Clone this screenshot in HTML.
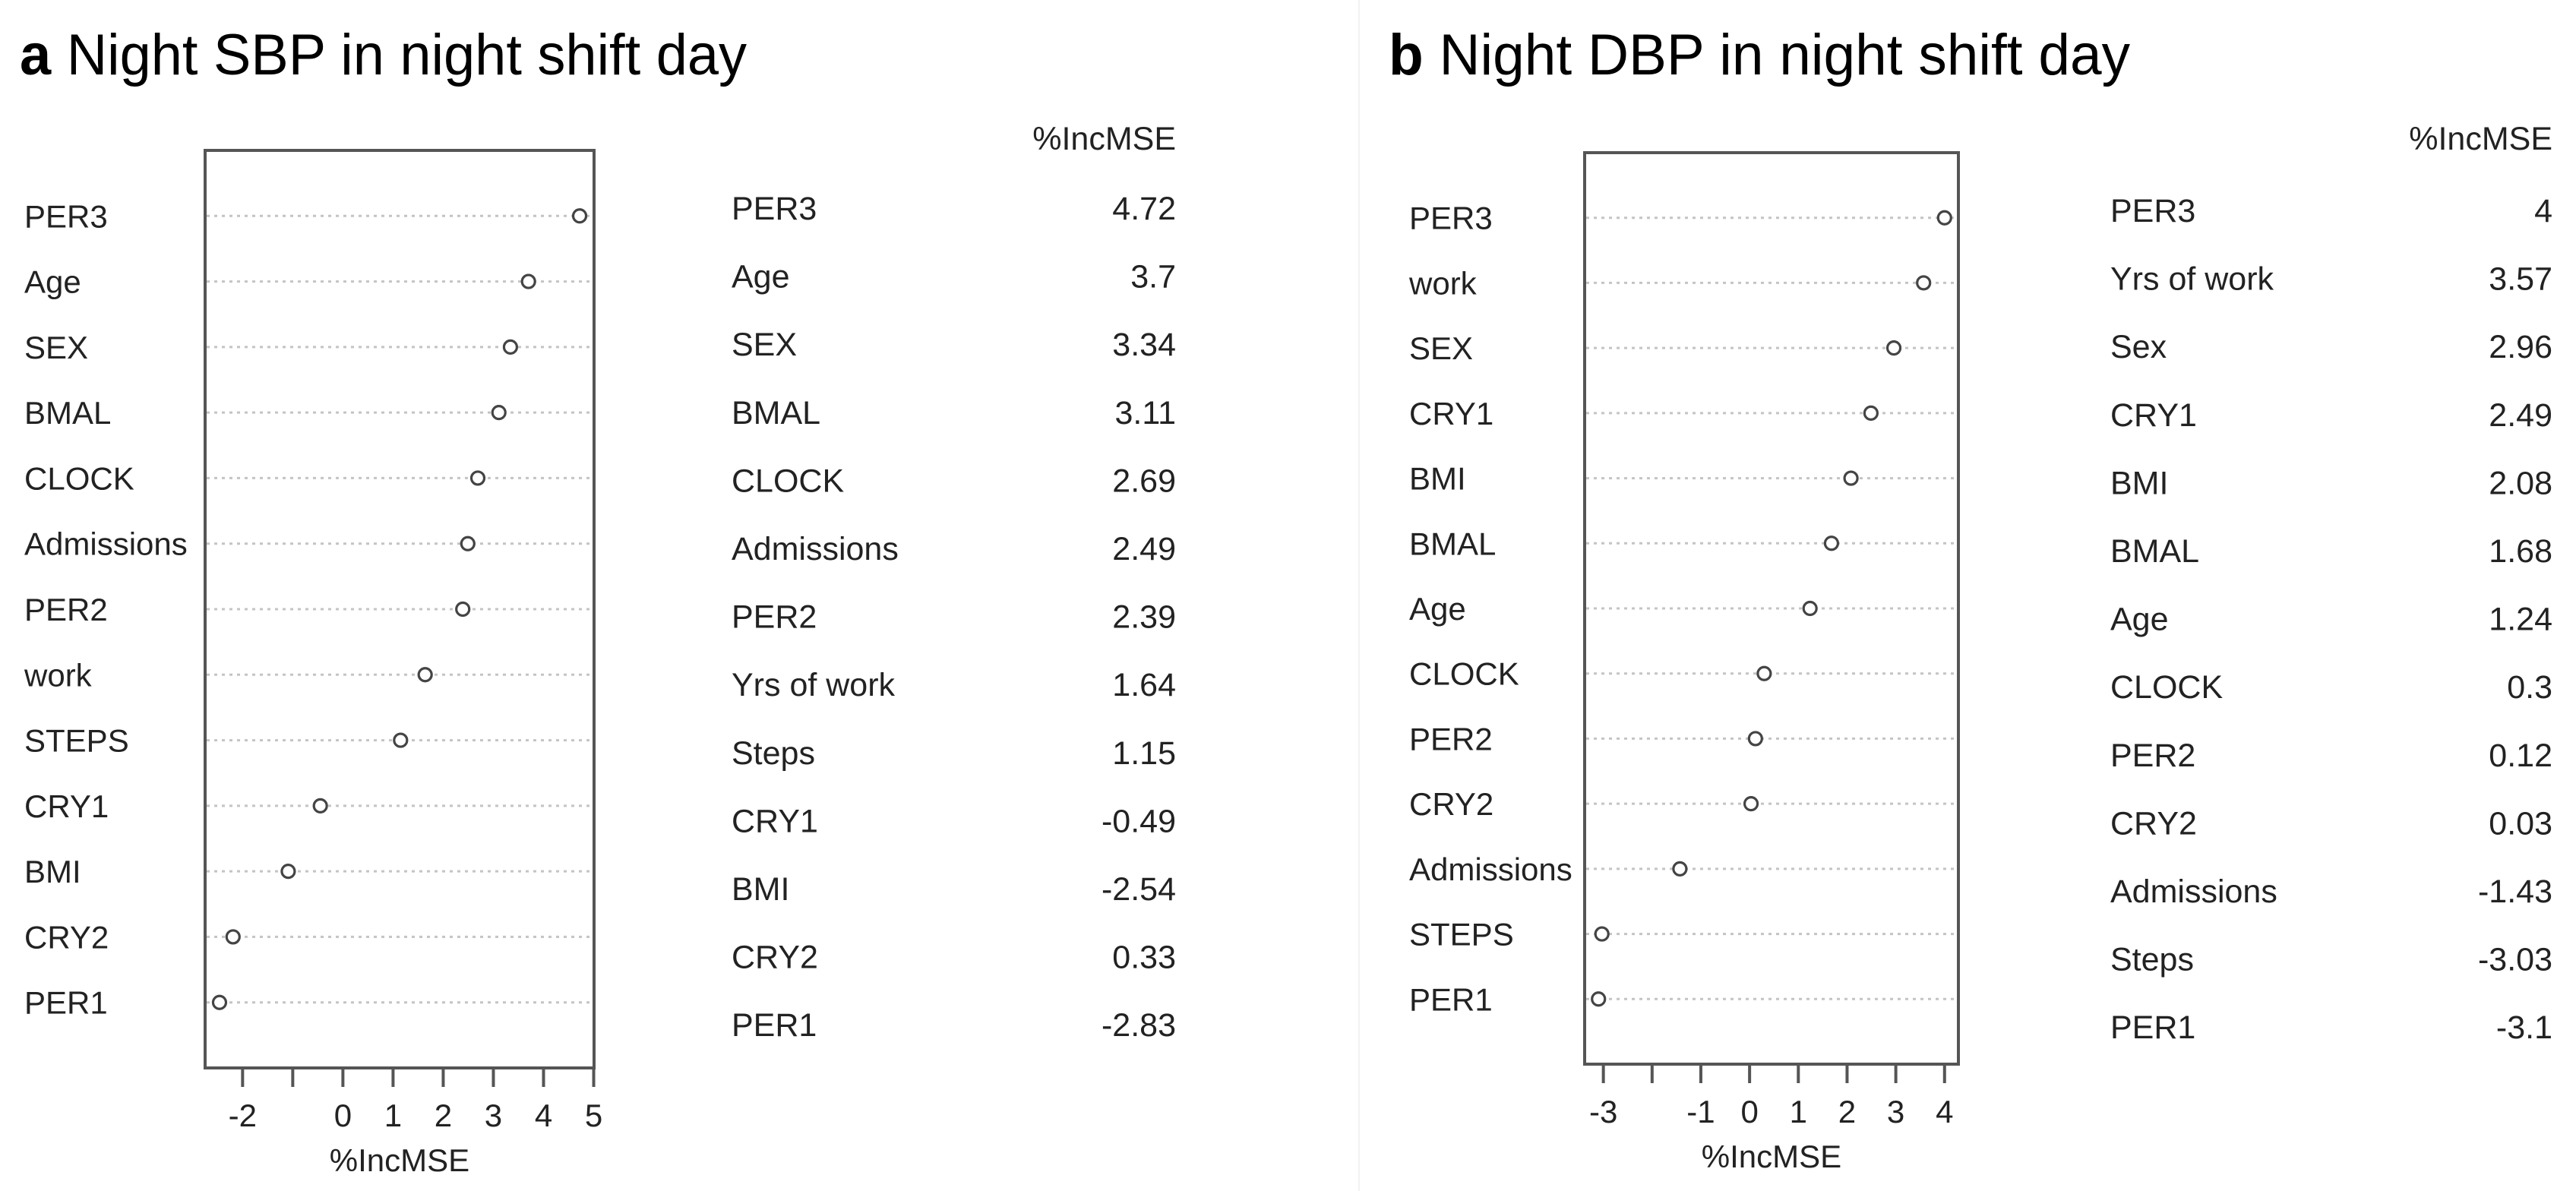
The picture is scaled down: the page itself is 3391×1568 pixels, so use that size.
<!DOCTYPE html>
<html><head><meta charset="utf-8"><style>
html,body{margin:0;padding:0;background:#fff;}
svg{display:block;}
text{font-family:"Liberation Sans",Arial,sans-serif;fill:#222;}
.title{font-family:"Liberation Sans",sans-serif;fill:#000;}
</style></head><body>
<svg id="fig" width="3391" height="1568" viewBox="0 0 3391 1568" xmlns="http://www.w3.org/2000/svg">
<line x1="1789" y1="0" x2="1789" y2="1568" stroke="#f2f2f2" stroke-width="2"/>
<text class="title" x="26" y="98" font-size="76" textLength="957" lengthAdjust="spacingAndGlyphs"><tspan font-weight="bold">a</tspan> Night SBP in night shift  day</text>
<text class="title" x="1828" y="98" font-size="76" textLength="976" lengthAdjust="spacingAndGlyphs"><tspan font-weight="bold">b</tspan> Night DBP in night shift  day</text>
<g id="panelA"></g>
<g id="panelB"></g>
<g id="tableA"></g>
<g id="tableB"></g>
</svg>
<script>
// Panel a data (plot order top to bottom)
const catsA = ["PER3","Age","SEX","BMAL","CLOCK","Admissions","PER2","work","STEPS","CRY1","BMI","CRY2","PER1"];
const valsA = [4.72,3.7,3.34,3.11,2.69,2.49,2.39,1.64,1.15,-0.45,-1.09,-2.19,-2.46];
const ticksA = [-2,-1,0,1,2,3,4,5];
const tickLabelsA = ["-2","","0","1","2","3","4","5"];
// Panel b data
const catsB = ["PER3","work","SEX","CRY1","BMI","BMAL","Age","CLOCK","PER2","CRY2","Admissions","STEPS","PER1"];
const valsB = [4,3.57,2.96,2.49,2.08,1.68,1.24,0.3,0.12,0.03,-1.43,-3.03,-3.1];
const ticksB = [-3,-2,-1,0,1,2,3,4];
const tickLabelsB = ["-3","","-1","0","1","2","3","4"];
// Tables
const tabNamesA = ["PER3","Age","SEX","BMAL","CLOCK","Admissions","PER2","Yrs of work","Steps","CRY1","BMI","CRY2","PER1"];
const tabValsA = ["4.72","3.7","3.34","3.11","2.69","2.49","2.39","1.64","1.15","-0.49","-2.54","0.33","-2.83"];
const tabNamesB = ["PER3","Yrs of work","Sex","CRY1","BMI","BMAL","Age","CLOCK","PER2","CRY2","Admissions","Steps","PER1"];
const tabValsB = ["4","3.57","2.96","2.49","2.08","1.68","1.24","0.3","0.12","0.03","-1.43","-3.03","-3.1"];

const NS="http://www.w3.org/2000/svg";
function mk(tag,attrs,parent){const e=document.createElementNS(NS,tag);for(const k in attrs)e.setAttribute(k,attrs[k]);parent.appendChild(e);return e;}

function dotchart(g,cats,vals,ticks,tlabels,box,labelX){
  const mn=Math.min(...vals),mx=Math.max(...vals),pad=(mx-mn)*0.04;
  const d0=mn-pad,d1=mx+pad;
  const xs=v=>box.l+(v-d0)/(d1-d0)*(box.r-box.l);
  const unit=(box.b-box.t)/14;
  const ys=i=>box.t+(i+1)*unit;
  cats.forEach((c,i)=>{
    const y=ys(i);
    const ln=mk('line',{x1:box.l+2,x2:box.r-2,y1:y,y2:y,stroke:'#c4c4c4','stroke-width':3,'stroke-dasharray':'4 6'},g);
    
    
    const t=mk('text',{x:labelX,y:y+15,'font-size':42},g);
    t.textContent=c;
    
    
    const p=mk('circle',{cx:xs(vals[i]),cy:y,r:8.5,fill:'#fff',stroke:'#444','stroke-width':3.2},g);
    
    
  });
  const r=mk('rect',{x:box.l,y:box.t,width:box.r-box.l,height:box.b-box.t,fill:'none',stroke:'#555','stroke-width':4},g);
  
  
  ticks.forEach((v,i)=>{
    const x=xs(v);
    const tk=mk('line',{x1:x,x2:x,y1:box.b,y2:box.b+25,stroke:'#555','stroke-width':4},g);
    
    
    if(tlabels[i]!==""){
      const tl=mk('text',{x:x,y:box.b+77,'font-size':42,'text-anchor':'middle'},g);
      tl.textContent=tlabels[i];
      
      
    }
  });
  const at=mk('text',{x:(box.l+box.r)/2,y:box.b+136,'font-size':42,'text-anchor':'middle'},g);
  at.textContent='%IncMSE';
  
  
}
function table(g,names,vals,nameX,valR,top){
  const h=mk('text',{x:valR,y:182+15,'font-size':43,'text-anchor':'end'},g);
  h.textContent='%IncMSE';
  
  
  names.forEach((n,i)=>{
    const y=top+i*89.6;
    const a=mk('text',{x:nameX,y:y+15,'font-size':43},g);
    a.textContent=n;
    
    
    const b=mk('text',{x:valR,y:y+15,'font-size':43,'text-anchor':'end'},g);
    b.textContent=vals[i];
    
    
  });
}
dotchart(document.getElementById('panelA'),catsA,valsA,ticksA,tickLabelsA,{l:270,r:782,t:198,b:1406},32);
dotchart(document.getElementById('panelB'),catsB,valsB,ticksB,tickLabelsB,{l:2086,r:2578,t:201,b:1401},1855);
table(document.getElementById('tableA'),tabNamesA,tabValsA,963,1548,274);
table(document.getElementById('tableB'),tabNamesB,tabValsB,2778,3360,277);
</script>
</body></html>
